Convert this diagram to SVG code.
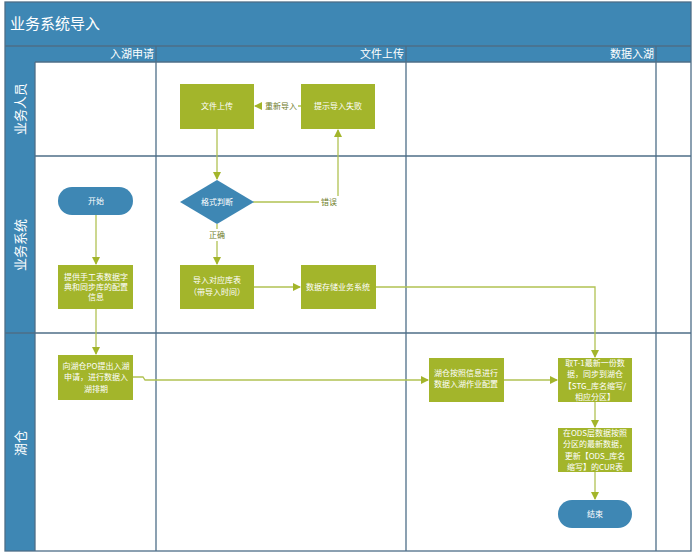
<svg xmlns="http://www.w3.org/2000/svg" width="693" height="554" viewBox="0 0 693 554">
<defs>
<style>
.grid{stroke:#4e6e87;stroke-width:1.3;fill:none}
.band{fill:#3e87b4}
.proc{fill:#a3b52b}
.term{fill:#3e87b4}
.nt{font-family:"Noto Sans CJK SC","Noto Sans",sans-serif;font-size:8px;fill:#ffffff;text-anchor:middle}
.lane{font-family:"Noto Sans CJK SC","Noto Sans",sans-serif;font-size:13px;fill:#ffffff;text-anchor:middle}
.hdr{font-family:"Noto Sans CJK SC","Noto Sans",sans-serif;font-size:11px;fill:#ffffff;text-anchor:end}
.lbl{font-family:"Noto Sans CJK SC","Noto Sans",sans-serif;font-size:8px;fill:#6f7d2a;text-anchor:middle}
.c{stroke:#b1c253;stroke-width:1.3;fill:none}
</style>
<marker id="ah" markerWidth="8" markerHeight="8" refX="7" refY="4" orient="auto" markerUnits="userSpaceOnUse">
<path d="M0,0 L8,4 L0,8 z" fill="#a3b52b"/>
</marker>
</defs>
<rect x="0" y="0" width="693" height="554" fill="#ffffff"/>
<g id="pool">
<rect class="band" x="5" y="2" width="686" height="60"/>
<rect class="band" x="5" y="62" width="30" height="489"/>
<line class="grid" x1="5" y1="46" x2="691" y2="46"/>
<line class="grid" x1="35" y1="62" x2="691" y2="62"/>
<line class="grid" x1="35" y1="156" x2="691" y2="156"/>
<line class="grid" x1="5" y1="333" x2="691" y2="333"/>
<line class="grid" x1="35" y1="62" x2="35" y2="551"/>
<line class="grid" x1="156" y1="46" x2="156" y2="551"/>
<line class="grid" x1="406" y1="46" x2="406" y2="551"/>
<line class="grid" x1="656" y1="46" x2="656" y2="551"/>
<rect class="grid" x="5" y="2" width="686" height="549"/>
<text x="10" y="29" font-family="Noto Sans CJK SC, Noto Sans, sans-serif" font-size="15" fill="#ffffff">业务系统导入</text>
<text class="hdr" x="154" y="58">入湖申请</text>
<text class="hdr" x="404" y="58">文件上传</text>
<text class="hdr" x="654" y="58">数据入湖</text>
<text class="lane" transform="translate(25,109) rotate(-90)">业务人员</text>
<text class="lane" transform="translate(25,245) rotate(-90)">业务系统</text>
<text class="lane" transform="translate(25,443) rotate(-90)">湖仓</text>
</g>
<g id="connectors">
<line class="c" x1="301" y1="106" x2="255" y2="106" marker-end="url(#ah)"/>
<rect x="262" y="100" width="36" height="12" fill="#ffffff"/>
<text class="lbl" x="281" y="109">重新导入</text>
<line class="c" x1="217" y1="129" x2="217" y2="179" marker-end="url(#ah)"/>
<polyline class="c" points="253,202 338,202 338,130" marker-end="url(#ah)"/>
<rect x="319" y="196" width="20" height="12" fill="#ffffff"/>
<text class="lbl" x="329" y="205">错误</text>
<line class="c" x1="217" y1="224" x2="217" y2="264" marker-end="url(#ah)"/>
<rect x="206" y="229" width="22" height="12" fill="#ffffff"/>
<text class="lbl" x="217" y="238">正确</text>
<line class="c" x1="254" y1="287" x2="300" y2="287" marker-end="url(#ah)"/>
<polyline class="c" points="376,287 595,287 595,357" marker-end="url(#ah)"/>
<line class="c" x1="96" y1="215" x2="96" y2="264" marker-end="url(#ah)"/>
<line class="c" x1="96" y1="309" x2="96" y2="354" marker-end="url(#ah)"/>
<polyline class="c" points="133,377 143,377 145,380 428,380" marker-end="url(#ah)"/>
<line class="c" x1="504" y1="380" x2="557" y2="380" marker-end="url(#ah)"/>
<line class="c" x1="595" y1="402" x2="595" y2="427" marker-end="url(#ah)"/>
<line class="c" x1="595" y1="472" x2="595" y2="499" marker-end="url(#ah)"/>
</g>
<g id="n-upload">
<rect class="proc" x="180" y="84" width="74" height="45"/>
<text class="nt" x="217" y="109">文件上传</text>
</g>
<g id="n-fail">
<rect class="proc" x="301" y="84" width="74" height="45"/>
<text class="nt" x="338" y="109">提示导入失败</text>
</g>
<g id="n-check">
<polygon class="term" points="217,180 254,202 217,224 180,202"/>
<text class="nt" x="217" y="205">格式判断</text>
</g>
<g id="n-import">
<rect class="proc" x="180" y="265" width="74" height="44"/>
<text class="nt" x="217" y="283">导入对应库表</text>
<text class="nt" x="217" y="295">（带导入时间）</text>
</g>
<g id="n-store">
<rect class="proc" x="301" y="265" width="75" height="44"/>
<text class="nt" x="338" y="290">数据存储业务系统</text>
</g>
<g id="n-start">
<rect class="term" x="58" y="187" width="75" height="28" rx="14"/>
<text class="nt" x="96" y="204">开始</text>
</g>
<g id="n-provide">
<rect class="proc" x="58" y="265" width="75" height="44"/>
<text class="nt" x="96" y="280">提供手工表数据字</text>
<text class="nt" x="96" y="290">典和同步库的配置</text>
<text class="nt" x="96" y="300">信息</text>
</g>
<g id="n-apply">
<rect class="proc" x="58" y="355" width="75" height="45"/>
<text class="nt" x="96" y="369">向湖仓PO提出入湖</text>
<text class="nt" x="96" y="380">申请，进行数据入</text>
<text class="nt" x="96" y="392">湖排期</text>
</g>
<g id="n-config">
<rect class="proc" x="429" y="358" width="75" height="44"/>
<text class="nt" x="466" y="376">湖仓按照信息进行</text>
<text class="nt" x="466" y="387">数据入湖作业配置</text>
</g>
<g id="n-sync">
<rect class="proc" x="558" y="358" width="74" height="44"/>
<text class="nt" x="595" y="366">取T-1最新一份数</text>
<text class="nt" x="595" y="377">据，同步到湖仓</text>
<text class="nt" x="595" y="389">【STG_库名缩写/</text>
<text class="nt" x="595" y="400">相应分区】</text>
</g>
<g id="n-ods">
<rect class="proc" x="558" y="428" width="74" height="44"/>
<text class="nt" x="595" y="436">在ODS层数据按照</text>
<text class="nt" x="595" y="447">分区的最新数据，</text>
<text class="nt" x="595" y="459">更新【ODS_库名</text>
<text class="nt" x="595" y="470">缩写】的CUR表</text>
</g>
<g id="n-end">
<rect class="term" x="558" y="500" width="74" height="28" rx="14"/>
<text class="nt" x="595" y="517">结束</text>
</g>
</svg>
